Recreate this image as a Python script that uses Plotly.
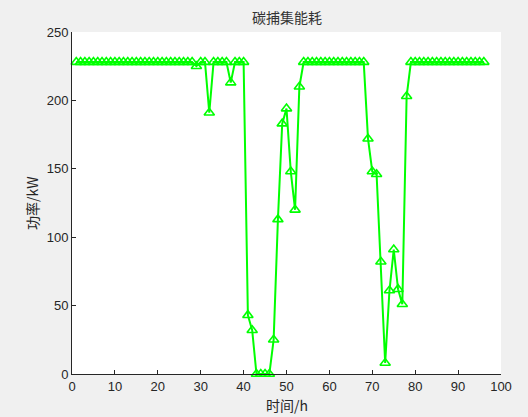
import plotly.graph_objects as go

hours = list(range(1, 97))
power = ([228] * 28 + [225, 228, 228, 191, 228, 228, 228, 228, 213, 228, 228, 228,
          43, 32, 0, 0, 0, 0, 25, 113, 183, 194, 148, 120, 210]
         + [228] * 15
         + [172, 148, 146, 82, 8, 61, 91, 62, 51, 203]
         + [228] * 18)

x_ticks = list(range(0, 101, 10))
y_ticks = list(range(0, 251, 50))

fig = go.Figure()
fig.add_trace(go.Scatter(
    x=hours, y=power, mode="lines+markers",
    line=dict(color="#00ff00", width=2),
    marker=dict(symbol="triangle-up-open", size=9, color="#00ff00",
                line=dict(width=1.6, color="#00ff00")),
    showlegend=False, cliponaxis=False,
))

axis_font = dict(family="Liberation Sans, Arial, sans-serif", size=13, color="#262626")
cjk = dict(family="Noto Sans CJK SC", size=14, color="#262626")
fig.update_layout(
    width=528, height=417,
    margin=dict(l=72, r=27, t=32, b=43, autoexpand=False),
    paper_bgcolor="#f0f0f0", plot_bgcolor="#ffffff",
    xaxis=dict(range=[0, 100], tickvals=x_ticks, ticks="inside", ticklen=4,
               tickcolor="#262626", showline=True, linecolor="#262626", linewidth=1,
               showgrid=False, zeroline=False, tickfont=axis_font, automargin=False),
    yaxis=dict(range=[0, 250], tickvals=y_ticks, ticks="inside", ticklen=4,
               tickcolor="#262626", showline=True, linecolor="#262626", linewidth=1,
               showgrid=False, zeroline=False, tickfont=axis_font, automargin=False),
    annotations=[
        dict(text="碳捕集能耗", xref="paper", yref="paper", x=0.5, y=1, yshift=15,
             xanchor="center", yanchor="middle", showarrow=False,
             font=dict(family="Noto Sans CJK SC", size=14, color="#333333")),
        dict(text="时间/h", xref="paper", yref="paper", x=0.5, y=0, yshift=-31,
             xanchor="center", yanchor="middle", showarrow=False, font=cjk),
        dict(text="功率/kW", xref="paper", yref="paper", x=0, y=0.5, xshift=-40,
             xanchor="center", yanchor="middle", textangle=-90, showarrow=False, font=cjk),
    ],
)
fig.write_html("out.html", config={"displayModeBar": False},
               post_script="document.body.style.margin='0';document.body.style.background='#f0f0f0';")
